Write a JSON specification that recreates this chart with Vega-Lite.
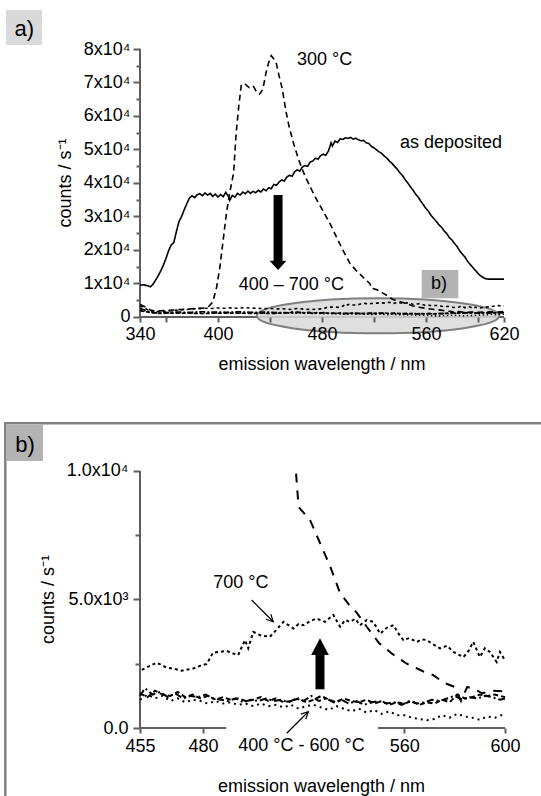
{
"$schema":"https://vega.github.io/schema/vega-lite/v6.json",
"width":365,"height":679,
"autosize":{"type":"none"},
"padding":{"left":140,"top":49,"right":36,"bottom":68},
"background":"white",
"config":{"view":{"stroke":null},"font":"Liberation Sans",
 "axis":{"domain":false,"grid":false,"labelFont":"Liberation Sans","labelFontSize":18,"labelColor":"#000","tickColor":"#5f5f5f","tickWidth":2,"labelFlush":false,"labelOverlap":false,"labelBound":false},
 "text":{"font":"Liberation Sans","fontSize":18,"color":"#000"}},
"datasets":{"spec":[
{"series":"dep","wl":340,"counts":9500},{"series":"dep","wl":343,"counts":9600},{"series":"dep","wl":346,"counts":9300},{"series":"dep","wl":348,"counts":9000},{"series":"dep","wl":350,"counts":9800},{"series":"dep","wl":353,"counts":11600},{"series":"dep","wl":356,"counts":13800},{"series":"dep","wl":358,"counts":15500},{"series":"dep","wl":360,"counts":17500},{"series":"dep","wl":362,"counts":19800},{"series":"dep","wl":364,"counts":21500},{"series":"dep","wl":366,"counts":22200},{"series":"dep","wl":368,"counts":25500},{"series":"dep","wl":370,"counts":28500},{"series":"dep","wl":372,"counts":30000},{"series":"dep","wl":374,"counts":32000},{"series":"dep","wl":376,"counts":33800},{"series":"dep","wl":378,"counts":35500},{"series":"dep","wl":380,"counts":36200},{"series":"dep","wl":382,"counts":35600},{"series":"dep","wl":384,"counts":36500},{"series":"dep","wl":386,"counts":36800},{"series":"dep","wl":388,"counts":36200},{"series":"dep","wl":390,"counts":37000},{"series":"dep","wl":392,"counts":36400},{"series":"dep","wl":394,"counts":36900},{"series":"dep","wl":396,"counts":36000},{"series":"dep","wl":398,"counts":36700},{"series":"dep","wl":400,"counts":35800},{"series":"dep","wl":402,"counts":36600},{"series":"dep","wl":404,"counts":35900},{"series":"dep","wl":406,"counts":37200},{"series":"dep","wl":408,"counts":36000},{"series":"dep","wl":409,"counts":34800},{"series":"dep","wl":411,"counts":36300},{"series":"dep","wl":413,"counts":35800},{"series":"dep","wl":415,"counts":36900},{"series":"dep","wl":417,"counts":36400},{"series":"dep","wl":419,"counts":37300},{"series":"dep","wl":421,"counts":36800},{"series":"dep","wl":423,"counts":37600},{"series":"dep","wl":425,"counts":36900},{"series":"dep","wl":427,"counts":37500},{"series":"dep","wl":429,"counts":37100},{"series":"dep","wl":431,"counts":37800},{"series":"dep","wl":433,"counts":37300},{"series":"dep","wl":435,"counts":38200},{"series":"dep","wl":437,"counts":37700},{"series":"dep","wl":439,"counts":38600},{"series":"dep","wl":441,"counts":38300},{"series":"dep","wl":443,"counts":39600},{"series":"dep","wl":445,"counts":39300},{"series":"dep","wl":447,"counts":40300},{"series":"dep","wl":449,"counts":40900},{"series":"dep","wl":451,"counts":40600},{"series":"dep","wl":453,"counts":41800},{"series":"dep","wl":455,"counts":42300},{"series":"dep","wl":457,"counts":42000},{"series":"dep","wl":459,"counts":43400},{"series":"dep","wl":461,"counts":43900},{"series":"dep","wl":463,"counts":43600},{"series":"dep","wl":465,"counts":44800},{"series":"dep","wl":467,"counts":45200},{"series":"dep","wl":469,"counts":45000},{"series":"dep","wl":471,"counts":46300},{"series":"dep","wl":473,"counts":46600},{"series":"dep","wl":475,"counts":47400},{"series":"dep","wl":477,"counts":47100},{"series":"dep","wl":479,"counts":48200},{"series":"dep","wl":481,"counts":48600},{"series":"dep","wl":483,"counts":48300},{"series":"dep","wl":485,"counts":49600},{"series":"dep","wl":487,"counts":52000},{"series":"dep","wl":488,"counts":51000},{"series":"dep","wl":490,"counts":52500},{"series":"dep","wl":492,"counts":52100},{"series":"dep","wl":494,"counts":53200},{"series":"dep","wl":496,"counts":53000},{"series":"dep","wl":498,"counts":53500},{"series":"dep","wl":500,"counts":53300},{"series":"dep","wl":502,"counts":53600},{"series":"dep","wl":504,"counts":53100},{"series":"dep","wl":506,"counts":53400},{"series":"dep","wl":508,"counts":52900},{"series":"dep","wl":510,"counts":52600},{"series":"dep","wl":512,"counts":52700},{"series":"dep","wl":514,"counts":52000},{"series":"dep","wl":516,"counts":51800},{"series":"dep","wl":518,"counts":50900},{"series":"dep","wl":520,"counts":50500},{"series":"dep","wl":522,"counts":49900},{"series":"dep","wl":524,"counts":49300},{"series":"dep","wl":526,"counts":48800},{"series":"dep","wl":528,"counts":48000},{"series":"dep","wl":530,"counts":47400},{"series":"dep","wl":532,"counts":46500},{"series":"dep","wl":534,"counts":45800},{"series":"dep","wl":536,"counts":44900},{"series":"dep","wl":538,"counts":44100},{"series":"dep","wl":540,"counts":43000},{"series":"dep","wl":542,"counts":42200},{"series":"dep","wl":544,"counts":41000},{"series":"dep","wl":546,"counts":40000},{"series":"dep","wl":548,"counts":38900},{"series":"dep","wl":550,"counts":37900},{"series":"dep","wl":552,"counts":36700},{"series":"dep","wl":554,"counts":35800},{"series":"dep","wl":556,"counts":34600},{"series":"dep","wl":558,"counts":33500},{"series":"dep","wl":560,"counts":32400},{"series":"dep","wl":562,"counts":31500},{"series":"dep","wl":564,"counts":30300},{"series":"dep","wl":566,"counts":29400},{"series":"dep","wl":568,"counts":28500},{"series":"dep","wl":570,"counts":27500},{"series":"dep","wl":572,"counts":26800},{"series":"dep","wl":574,"counts":25700},{"series":"dep","wl":576,"counts":24900},{"series":"dep","wl":578,"counts":23700},{"series":"dep","wl":580,"counts":23000},{"series":"dep","wl":582,"counts":21900},{"series":"dep","wl":584,"counts":21000},{"series":"dep","wl":586,"counts":19700},{"series":"dep","wl":588,"counts":18800},{"series":"dep","wl":590,"counts":17900},{"series":"dep","wl":592,"counts":16600},{"series":"dep","wl":594,"counts":15700},{"series":"dep","wl":596,"counts":14800},{"series":"dep","wl":598,"counts":13900},{"series":"dep","wl":600,"counts":13000},{"series":"dep","wl":602,"counts":12300},{"series":"dep","wl":604,"counts":11800},{"series":"dep","wl":606,"counts":11400},{"series":"dep","wl":608,"counts":11300},{"series":"dep","wl":612,"counts":11300},{"series":"dep","wl":616,"counts":11300},{"series":"dep","wl":620,"counts":11300},
{"series":"300","wl":340,"counts":3800},{"series":"300","wl":342,"counts":3400},{"series":"300","wl":344,"counts":3000},{"series":"300","wl":346,"counts":2500},{"series":"300","wl":348,"counts":2100},{"series":"300","wl":350,"counts":1900},{"series":"300","wl":354,"counts":1800},{"series":"300","wl":358,"counts":1900},{"series":"300","wl":362,"counts":2000},{"series":"300","wl":366,"counts":2100},{"series":"300","wl":370,"counts":2200},{"series":"300","wl":374,"counts":2300},{"series":"300","wl":378,"counts":2400},{"series":"300","wl":382,"counts":2500},{"series":"300","wl":386,"counts":2600},{"series":"300","wl":390,"counts":2700},{"series":"300","wl":393,"counts":3200},{"series":"300","wl":396,"counts":4500},{"series":"300","wl":399,"counts":9000},{"series":"300","wl":401.5,"counts":15000},{"series":"300","wl":404,"counts":23000},{"series":"300","wl":406.5,"counts":31000},{"series":"300","wl":409,"counts":37000},{"series":"300","wl":412,"counts":43000},{"series":"300","wl":414,"counts":55000},{"series":"300","wl":416,"counts":63000},{"series":"300","wl":418,"counts":69500},{"series":"300","wl":421,"counts":69500},{"series":"300","wl":424,"counts":68500},{"series":"300","wl":427,"counts":69000},{"series":"300","wl":430,"counts":67000},{"series":"300","wl":432,"counts":66500},{"series":"300","wl":434.5,"counts":68000},{"series":"300","wl":437,"counts":73000},{"series":"300","wl":439,"counts":76000},{"series":"300","wl":441,"counts":78000},{"series":"300","wl":443,"counts":77000},{"series":"300","wl":445,"counts":75500},{"series":"300","wl":447,"counts":72000},{"series":"300","wl":449.5,"counts":68000},{"series":"300","wl":452,"counts":62000},{"series":"300","wl":454.6,"counts":57000},{"series":"300","wl":458,"counts":52000},{"series":"300","wl":462,"counts":47000},{"series":"300","wl":467,"counts":42000},{"series":"300","wl":472,"counts":38000},{"series":"300","wl":476,"counts":35000},{"series":"300","wl":481,"counts":31500},{"series":"300","wl":486,"counts":28000},{"series":"300","wl":491,"counts":24000},{"series":"300","wl":496,"counts":20000},{"series":"300","wl":501.5,"counts":16000},{"series":"300","wl":506,"counts":14000},{"series":"300","wl":510,"counts":12500},{"series":"300","wl":514,"counts":11000},{"series":"300","wl":517,"counts":9900},{"series":"300","wl":518,"counts":8600},{"series":"300","wl":522.5,"counts":8100},{"series":"300","wl":526.5,"counts":7200},{"series":"300","wl":530.5,"counts":6300},{"series":"300","wl":534.5,"counts":5250},{"series":"300","wl":538,"counts":4800},{"series":"300","wl":541,"counts":4500},{"series":"300","wl":545,"counts":3950},{"series":"300","wl":550,"counts":3300},{"series":"300","wl":555,"counts":2900},{"series":"300","wl":561,"counts":2500},{"series":"300","wl":567.6,"counts":2200},{"series":"300","wl":571.5,"counts":2060},{"series":"300","wl":576,"counts":1750},{"series":"300","wl":580,"counts":1600},{"series":"300","wl":582.5,"counts":1050},{"series":"300","wl":585,"counts":1600},{"series":"300","wl":588,"counts":1500},{"series":"300","wl":591,"counts":1350},{"series":"300","wl":595,"counts":1450},{"series":"300","wl":600,"counts":1420},{"series":"300","wl":605,"counts":1500},{"series":"300","wl":610,"counts":1550},{"series":"300","wl":615,"counts":1500},{"series":"300","wl":620,"counts":1600},
{"series":"700","wl":340,"counts":3300},{"series":"700","wl":342,"counts":3000},{"series":"700","wl":344,"counts":2600},{"series":"700","wl":346,"counts":2100},{"series":"700","wl":348,"counts":1800},{"series":"700","wl":350,"counts":1700},{"series":"700","wl":355,"counts":1600},{"series":"700","wl":360,"counts":1700},{"series":"700","wl":365,"counts":1900},{"series":"700","wl":370,"counts":2100},{"series":"700","wl":375,"counts":2200},{"series":"700","wl":380,"counts":2400},{"series":"700","wl":385,"counts":2500},{"series":"700","wl":390,"counts":2600},{"series":"700","wl":395,"counts":2550},{"series":"700","wl":400,"counts":2700},{"series":"700","wl":405,"counts":2600},{"series":"700","wl":410,"counts":2750},{"series":"700","wl":415,"counts":2600},{"series":"700","wl":420,"counts":2800},{"series":"700","wl":425,"counts":2650},{"series":"700","wl":430,"counts":2600},{"series":"700","wl":435,"counts":2500},{"series":"700","wl":440,"counts":2550},{"series":"700","wl":445,"counts":2400},{"series":"700","wl":450,"counts":2450},{"series":"700","wl":455.7,"counts":2260},{"series":"700","wl":458.5,"counts":2400},{"series":"700","wl":461.6,"counts":2540},{"series":"700","wl":463.5,"counts":2450},{"series":"700","wl":465.6,"counts":2350},{"series":"700","wl":468.5,"counts":2300},{"series":"700","wl":471.6,"counts":2230},{"series":"700","wl":474,"counts":2280},{"series":"700","wl":476,"counts":2310},{"series":"700","wl":479,"counts":2420},{"series":"700","wl":481.5,"counts":2490},{"series":"700","wl":484,"counts":2930},{"series":"700","wl":486.5,"counts":2960},{"series":"700","wl":489.4,"counts":3000},{"series":"700","wl":492,"counts":2900},{"series":"700","wl":494,"counts":2840},{"series":"700","wl":496.7,"counts":3420},{"series":"700","wl":498,"counts":3100},{"series":"700","wl":500,"counts":3740},{"series":"700","wl":503,"counts":3600},{"series":"700","wl":506.6,"counts":3550},{"series":"700","wl":509,"counts":3800},{"series":"700","wl":512,"counts":4130},{"series":"700","wl":514,"counts":4000},{"series":"700","wl":516,"counts":3870},{"series":"700","wl":518,"counts":4050},{"series":"700","wl":520,"counts":4000},{"series":"700","wl":522.5,"counts":4150},{"series":"700","wl":525,"counts":4260},{"series":"700","wl":528.5,"counts":4130},{"series":"700","wl":531.8,"counts":4400},{"series":"700","wl":534.5,"counts":3940},{"series":"700","wl":536.5,"counts":4200},{"series":"700","wl":538.4,"counts":4130},{"series":"700","wl":540.5,"counts":4250},{"series":"700","wl":542.4,"counts":4000},{"series":"700","wl":545,"counts":4200},{"series":"700","wl":547.7,"counts":4130},{"series":"700","wl":550.4,"counts":3670},{"series":"700","wl":553,"counts":3900},{"series":"700","wl":555.7,"counts":4000},{"series":"700","wl":557.5,"counts":3700},{"series":"700","wl":559.6,"counts":3420},{"series":"700","wl":562,"counts":3500},{"series":"700","wl":565,"counts":3350},{"series":"700","wl":567,"counts":3450},{"series":"700","wl":569,"counts":3420},{"series":"700","wl":571.5,"counts":3250},{"series":"700","wl":574.2,"counts":3100},{"series":"700","wl":577,"counts":3200},{"series":"700","wl":579.5,"counts":2960},{"series":"700","wl":583.5,"counts":2760},{"series":"700","wl":585.5,"counts":3000},{"series":"700","wl":587.4,"counts":3350},{"series":"700","wl":590,"counts":2760},{"series":"700","wl":592,"counts":3100},{"series":"700","wl":594,"counts":2960},{"series":"700","wl":596.7,"counts":2570},{"series":"700","wl":598,"counts":2960},{"series":"700","wl":600,"counts":2630},{"series":"700","wl":605,"counts":2900},{"series":"700","wl":610,"counts":3100},{"series":"700","wl":615,"counts":3400},{"series":"700","wl":620,"counts":3300},
{"series":"400","wl":340,"counts":2600},{"series":"400","wl":343,"counts":2200},{"series":"400","wl":346,"counts":1700},{"series":"400","wl":350,"counts":1400},{"series":"400","wl":355,"counts":1300},{"series":"400","wl":360,"counts":1350},{"series":"400","wl":365,"counts":1450},{"series":"400","wl":370,"counts":1500},{"series":"400","wl":375,"counts":1400},{"series":"400","wl":380,"counts":1450},{"series":"400","wl":385,"counts":1550},{"series":"400","wl":390,"counts":1550},{"series":"400","wl":395,"counts":1450},{"series":"400","wl":400,"counts":1500},{"series":"400","wl":405,"counts":1400},{"series":"400","wl":410,"counts":1450},{"series":"400","wl":415,"counts":1550},{"series":"400","wl":420,"counts":1500},{"series":"400","wl":425,"counts":1400},{"series":"400","wl":430,"counts":1400},{"series":"400","wl":435,"counts":1500},{"series":"400","wl":440,"counts":1450},{"series":"400","wl":445,"counts":1300},{"series":"400","wl":450,"counts":1350},{"series":"400","wl":455,"counts":1250},{"series":"400","wl":457,"counts":1550},{"series":"400","wl":460,"counts":1300},{"series":"400","wl":463,"counts":1400},{"series":"400","wl":466,"counts":1200},{"series":"400","wl":469,"counts":1350},{"series":"400","wl":472,"counts":1150},{"series":"400","wl":475,"counts":1250},{"series":"400","wl":478,"counts":1200},{"series":"400","wl":481,"counts":1300},{"series":"400","wl":484,"counts":1150},{"series":"400","wl":487,"counts":1100},{"series":"400","wl":490,"counts":1050},{"series":"400","wl":493,"counts":1150},{"series":"400","wl":496,"counts":1000},{"series":"400","wl":499,"counts":1100},{"series":"400","wl":502,"counts":1050},{"series":"400","wl":505,"counts":1150},{"series":"400","wl":508,"counts":1050},{"series":"400","wl":511,"counts":1100},{"series":"400","wl":514,"counts":1000},{"series":"400","wl":517,"counts":1150},{"series":"400","wl":520,"counts":1050},{"series":"400","wl":523,"counts":1250},{"series":"400","wl":526,"counts":1050},{"series":"400","wl":529,"counts":1150},{"series":"400","wl":532,"counts":1000},{"series":"400","wl":535,"counts":1100},{"series":"400","wl":538,"counts":950},{"series":"400","wl":541,"counts":1050},{"series":"400","wl":544,"counts":900},{"series":"400","wl":547,"counts":1000},{"series":"400","wl":550,"counts":1050},{"series":"400","wl":553,"counts":950},{"series":"400","wl":556,"counts":1000},{"series":"400","wl":559,"counts":900},{"series":"400","wl":562,"counts":1050},{"series":"400","wl":565,"counts":950},{"series":"400","wl":568,"counts":1000},{"series":"400","wl":571,"counts":1100},{"series":"400","wl":574,"counts":1050},{"series":"400","wl":577,"counts":1150},{"series":"400","wl":580,"counts":1250},{"series":"400","wl":583,"counts":1100},{"series":"400","wl":586,"counts":1200},{"series":"400","wl":589,"counts":1150},{"series":"400","wl":592,"counts":1250},{"series":"400","wl":595,"counts":1200},{"series":"400","wl":598,"counts":1100},{"series":"400","wl":600,"counts":1150},{"series":"400","wl":605,"counts":1200},{"series":"400","wl":610,"counts":1300},{"series":"400","wl":615,"counts":1200},{"series":"400","wl":620,"counts":1350},
{"series":"500","wl":340,"counts":2200},{"series":"500","wl":344,"counts":1800},{"series":"500","wl":348,"counts":1400},{"series":"500","wl":352,"counts":1200},{"series":"500","wl":356,"counts":1150},{"series":"500","wl":360,"counts":1250},{"series":"500","wl":365,"counts":1200},{"series":"500","wl":370,"counts":1300},{"series":"500","wl":375,"counts":1250},{"series":"500","wl":380,"counts":1200},{"series":"500","wl":385,"counts":1300},{"series":"500","wl":390,"counts":1300},{"series":"500","wl":395,"counts":1200},{"series":"500","wl":400,"counts":1250},{"series":"500","wl":405,"counts":1300},{"series":"500","wl":410,"counts":1300},{"series":"500","wl":415,"counts":1200},{"series":"500","wl":420,"counts":1200},{"series":"500","wl":425,"counts":1300},{"series":"500","wl":430,"counts":1250},{"series":"500","wl":435,"counts":1150},{"series":"500","wl":440,"counts":1200},{"series":"500","wl":445,"counts":1250},{"series":"500","wl":450,"counts":1250},{"series":"500","wl":455,"counts":1100},{"series":"500","wl":458,"counts":1300},{"series":"500","wl":461,"counts":1150},{"series":"500","wl":464,"counts":1250},{"series":"500","wl":467,"counts":1050},{"series":"500","wl":470,"counts":1150},{"series":"500","wl":473,"counts":1000},{"series":"500","wl":476,"counts":1100},{"series":"500","wl":479,"counts":1050},{"series":"500","wl":482,"counts":950},{"series":"500","wl":485,"counts":1050},{"series":"500","wl":488,"counts":950},{"series":"500","wl":491,"counts":1000},{"series":"500","wl":494,"counts":900},{"series":"500","wl":497,"counts":950},{"series":"500","wl":500,"counts":850},{"series":"500","wl":503,"counts":950},{"series":"500","wl":506,"counts":850},{"series":"500","wl":509,"counts":900},{"series":"500","wl":512,"counts":800},{"series":"500","wl":515,"counts":900},{"series":"500","wl":518,"counts":750},{"series":"500","wl":521,"counts":850},{"series":"500","wl":524,"counts":900},{"series":"500","wl":527,"counts":800},{"series":"500","wl":530,"counts":700},{"series":"500","wl":533,"counts":850},{"series":"500","wl":536,"counts":750},{"series":"500","wl":539,"counts":650},{"series":"500","wl":542,"counts":750},{"series":"500","wl":545,"counts":600},{"series":"500","wl":548,"counts":700},{"series":"500","wl":551,"counts":550},{"series":"500","wl":554,"counts":650},{"series":"500","wl":557,"counts":500},{"series":"500","wl":560,"counts":500},{"series":"500","wl":563,"counts":400},{"series":"500","wl":566,"counts":350},{"series":"500","wl":569,"counts":300},{"series":"500","wl":572,"counts":350},{"series":"500","wl":575,"counts":500},{"series":"500","wl":578,"counts":400},{"series":"500","wl":581,"counts":550},{"series":"500","wl":584,"counts":450},{"series":"500","wl":587,"counts":400},{"series":"500","wl":590,"counts":320},{"series":"500","wl":593,"counts":450},{"series":"500","wl":596,"counts":400},{"series":"500","wl":600,"counts":550},{"series":"500","wl":605,"counts":600},{"series":"500","wl":610,"counts":800},{"series":"500","wl":615,"counts":700},{"series":"500","wl":620,"counts":900},
{"series":"600","wl":340,"counts":1900},{"series":"600","wl":344,"counts":1600},{"series":"600","wl":348,"counts":1300},{"series":"600","wl":352,"counts":1100},{"series":"600","wl":356,"counts":1050},{"series":"600","wl":360,"counts":1100},{"series":"600","wl":365,"counts":1150},{"series":"600","wl":370,"counts":1150},{"series":"600","wl":375,"counts":1100},{"series":"600","wl":380,"counts":1100},{"series":"600","wl":385,"counts":1050},{"series":"600","wl":390,"counts":1050},{"series":"600","wl":395,"counts":1100},{"series":"600","wl":400,"counts":1100},{"series":"600","wl":405,"counts":1150},{"series":"600","wl":410,"counts":1150},{"series":"600","wl":415,"counts":1100},{"series":"600","wl":420,"counts":1100},{"series":"600","wl":425,"counts":1050},{"series":"600","wl":430,"counts":1100},{"series":"600","wl":435,"counts":1100},{"series":"600","wl":440,"counts":1050},{"series":"600","wl":445,"counts":1100},{"series":"600","wl":450,"counts":1100},{"series":"600","wl":455,"counts":1350},{"series":"600","wl":458,"counts":1200},{"series":"600","wl":461,"counts":1450},{"series":"600","wl":464,"counts":1300},{"series":"600","wl":467,"counts":1250},{"series":"600","wl":470,"counts":1400},{"series":"600","wl":473,"counts":1200},{"series":"600","wl":476,"counts":1300},{"series":"600","wl":479,"counts":1150},{"series":"600","wl":482,"counts":1250},{"series":"600","wl":485,"counts":1100},{"series":"600","wl":488,"counts":1200},{"series":"600","wl":491,"counts":1100},{"series":"600","wl":494,"counts":1150},{"series":"600","wl":497,"counts":1050},{"series":"600","wl":500,"counts":1100},{"series":"600","wl":503,"counts":1200},{"series":"600","wl":506,"counts":1050},{"series":"600","wl":509,"counts":1150},{"series":"600","wl":512,"counts":1000},{"series":"600","wl":515,"counts":1050},{"series":"600","wl":518,"counts":1150},{"series":"600","wl":521,"counts":1000},{"series":"600","wl":524,"counts":1100},{"series":"600","wl":527,"counts":1250},{"series":"600","wl":530,"counts":1100},{"series":"600","wl":533,"counts":1000},{"series":"600","wl":536,"counts":1150},{"series":"600","wl":539,"counts":1050},{"series":"600","wl":542,"counts":1000},{"series":"600","wl":545,"counts":1100},{"series":"600","wl":548,"counts":950},{"series":"600","wl":551,"counts":1050},{"series":"600","wl":554,"counts":900},{"series":"600","wl":557,"counts":1000},{"series":"600","wl":560,"counts":950},{"series":"600","wl":563,"counts":1050},{"series":"600","wl":566,"counts":900},{"series":"600","wl":569,"counts":1000},{"series":"600","wl":572,"counts":950},{"series":"600","wl":575,"counts":1100},{"series":"600","wl":578,"counts":1000},{"series":"600","wl":581,"counts":1300},{"series":"600","wl":584,"counts":1150},{"series":"600","wl":587,"counts":1200},{"series":"600","wl":590,"counts":1300},{"series":"600","wl":593,"counts":1250},{"series":"600","wl":596,"counts":1300},{"series":"600","wl":600,"counts":1200},{"series":"600","wl":605,"counts":1250},{"series":"600","wl":610,"counts":1150},{"series":"600","wl":615,"counts":1300},{"series":"600","wl":620,"counts":1250}
]},
"layer":[
{"layer":[
 {"data":{"values":[{"wl":340,"counts":0,"wl2":620,"counts2":0},{"wl":340,"counts":0,"wl2":340,"counts2":80000}]},
  "mark":{"type":"rule","color":"#5f5f5f","strokeWidth":2},
  "encoding":{
   "x":{"field":"wl","type":"quantitative","scale":{"domain":[340,620.8],"nice":false,"zero":false},"axis":{"orient":"bottom","offset":-411,"zindex":2,"values":[340,360,400,440,480,520,560,600,620],"labelExpr":"indexof([340,400,480,560,620], datum.value) >= 0 ? datum.label : ''","tickSize":5,"labelPadding":3,"title":null}},
   "y":{"field":"counts","type":"quantitative","scale":{"domain":[-122687,80000],"nice":false,"zero":false},"axis":{"orient":"left","values":[0,5000,10000,15000,20000,25000,30000,35000,40000,45000,50000,55000,60000,65000,70000,75000,80000],"labelExpr":"datum.value == 0 ? '0' : (datum.value % 10000 == 0 ? (datum.value / 10000) + 'x10⁴' : '')","tickSize":{"condition":{"test":"datum.value % 10000 == 0","value":7},"value":4},"labelPadding":3,"title":null}},
   "x2":{"field":"wl2"},"y2":{"field":"counts2"}}},
 {"data":{"values":[{"wl":523.1,"counts":358}]},
  "mark":{"type":"point","shape":"M -1 0 A 1 0.1443 0 1 0 1 0 A 1 0.1443 0 1 0 -1 0 Z","size":58855,"filled":true,"fill":"#d9d9d9","stroke":"#7f7f7f","strokeWidth":2,"fillOpacity":0.85,"strokeOpacity":1,"opacity":1},
  "encoding":{"x":{"field":"wl","type":"quantitative"},"y":{"field":"counts","type":"quantitative"}}},
 {"data":{"name":"spec"},
  "mark":{"type":"line","color":"#000","strokeWidth":1.6},
  "encoding":{
   "x":{"field":"wl","type":"quantitative"},
   "y":{"field":"counts","type":"quantitative"},
   "strokeDash":{"field":"series","type":"nominal","scale":{"domain":["dep","300","400","500","600","700"],"range":[[1,0],[6,4],[6,2,2,2],[1.5,2.5],[4,2],[3,3]]},"legend":null}}},
 {"data":{"values":[{"wl":446.2,"counts":36418,"counts2":16418}]},
  "mark":{"type":"rule","color":"#000","strokeWidth":9,"strokeCap":"butt"},
  "encoding":{"x":{"field":"wl","type":"quantitative"},"y":{"field":"counts","type":"quantitative"},"y2":{"field":"counts2"}}},
 {"data":{"values":[{"wl":446.2,"counts":14030}]},
  "mark":{"type":"point","shape":"M -1 -1.1 L 1 -1.1 L 0 0 Z","size":289,"filled":true,"color":"#000","opacity":1},
  "encoding":{"x":{"field":"wl","type":"quantitative"},"y":{"field":"counts","type":"quantitative"}}},
 {"data":{"values":[{"wl":556.7,"wl2":584.9,"counts":14030,"counts2":5582,"fill":"b"},{"wl":236.9,"wl2":264.6,"counts":91642,"counts2":81194,"fill":"a"}]},
  "mark":{"type":"rect"},
  "encoding":{"x":{"field":"wl","type":"quantitative"},"x2":{"field":"wl2"},"y":{"field":"counts","type":"quantitative"},"y2":{"field":"counts2"},
   "color":{"field":"fill","type":"nominal","scale":{"domain":["a","b"],"range":["#d9d9d9","#b3b3b3"]},"legend":null}}},
 {"data":{"values":[{"wl":460.8,"counts":76716,"t":"300 °C"},{"wl":540.0,"counts":51940,"t":"as deposited"},{"wl":416.0,"counts":9552,"t":"400 – 700 °C"}]},
  "mark":{"type":"text","align":"left","baseline":"middle","fontSize":18},
  "encoding":{"x":{"field":"wl","type":"quantitative"},"y":{"field":"counts","type":"quantitative"},"text":{"field":"t"}}},
 {"data":{"values":[{"wl":570.0,"counts":9851,"t":"b)"},{"wl":480.0,"counts":-14447,"t":"emission wavelength / nm"}]},
  "mark":{"type":"text","align":"center","baseline":"middle","fontSize":18},
  "encoding":{"x":{"field":"wl","type":"quantitative"},"y":{"field":"counts","type":"quantitative"},"text":{"field":"t"}}},
 {"data":{"values":[{"wl":250.9,"counts":85971,"t":"a)"}]},
  "mark":{"type":"text","align":"center","baseline":"middle","fontSize":22},
  "encoding":{"x":{"field":"wl","type":"quantitative"},"y":{"field":"counts","type":"quantitative"},"text":{"field":"t"}}},
 {"data":{"values":[{"wl":283.07,"counts":40000,"t":"counts / s⁻¹"}]},
  "mark":{"type":"text","align":"center","baseline":"middle","fontSize":18,"angle":270},
  "encoding":{"x":{"field":"wl","type":"quantitative"},"y":{"field":"counts","type":"quantitative"},"text":{"field":"t"}}}
]},
{"layer":[
 {"data":{"values":[{"wl":455,"counts":0,"wl2":489.2,"counts2":0},{"wl":549.6,"counts":0,"wl2":600,"counts2":0},{"wl":455,"counts":0,"wl2":455,"counts2":10000}]},
  "mark":{"type":"rule","color":"#5f5f5f","strokeWidth":2},
  "encoding":{
   "x":{"field":"wl","type":"quantitative","scale":{"domain":[455,600],"nice":false,"zero":false},"axis":{"orient":"bottom","values":[455,480,560,600],"tickSize":5,"labelPadding":4,"title":null}},
   "y":{"field":"counts","type":"quantitative","scale":{"domain":[0,26420],"nice":false,"zero":false},"axis":{"orient":"left","values":[0,2500,5000,7500,10000],"labelExpr":"datum.value == 0 ? '0.0' : (datum.value == 5000 ? '5.0x10³' : (datum.value == 10000 ? '1.0x10⁴' : ''))","tickSize":{"condition":{"test":"datum.value % 5000 == 0","value":7},"value":5},"labelPadding":5,"title":null}},
   "x2":{"field":"wl2"},"y2":{"field":"counts2"}}},
 {"data":{"values":[{"wl":401.49,"wl2":621.9,"counts":11856,"counts2":-3191}]},
  "mark":{"type":"rect","filled":false,"color":"#808080","strokeWidth":2.5},
  "encoding":{"x":{"field":"wl","type":"quantitative"},"x2":{"field":"wl2"},"y":{"field":"counts","type":"quantitative"},"y2":{"field":"counts2"}}},
 {"data":{"values":[{"wl":401.96,"wl2":416.46,"counts":11809,"counts2":10389}]},
  "mark":{"type":"rect","color":"#b3b3b3"},
  "encoding":{"x":{"field":"wl","type":"quantitative"},"x2":{"field":"wl2"},"y":{"field":"counts","type":"quantitative"},"y2":{"field":"counts2"}}},
 {"data":{"name":"spec"},
  "transform":[{"filter":"datum.wl >= 455 && datum.wl <= 600 && datum.counts <= 10000"}],
  "mark":{"type":"line","color":"#000","strokeWidth":2},
  "encoding":{
   "x":{"field":"wl","type":"quantitative"},
   "y":{"field":"counts","type":"quantitative"},
   "strokeDash":{"field":"series","type":"nominal","scale":{"domain":["dep","300","400","500","600","700"],"range":[[1,0],[9,8],[7,3,2,3],[2,4],[5,3],[3,3]]},"legend":null}}},
 {"data":{"values":[{"wl":526.5,"counts":1506,"counts2":2900}]},
  "mark":{"type":"rule","color":"#000","strokeWidth":9,"strokeCap":"butt"},
  "encoding":{"x":{"field":"wl","type":"quantitative"},"y":{"field":"counts","type":"quantitative"},"y2":{"field":"counts2"}}},
 {"data":{"values":[{"wl":526.5,"counts":3490}]},
  "mark":{"type":"point","shape":"M -1 1.9 L 1 1.9 L 0 0 Z","size":313,"filled":true,"color":"#000","opacity":1},
  "encoding":{"x":{"field":"wl","type":"quantitative"},"y":{"field":"counts","type":"quantitative"}}},
 {"data":{"values":[{"wl":499.37,"counts":4981,"wl2":507.96,"counts2":4136},{"wl":513.28,"counts":-206,"wl2":521.86,"counts2":634}]},
  "mark":{"type":"rule","color":"#000","strokeWidth":1.2},
  "encoding":{"x":{"field":"wl","type":"quantitative"},"y":{"field":"counts","type":"quantitative"},"x2":{"field":"wl2"},"y2":{"field":"counts2"}}},
 {"data":{"values":[{"wl":507.96,"counts":4136,"ang":135},{"wl":521.86,"counts":634,"ang":45}]},
  "mark":{"type":"point","shape":"M -0.5 1 L 0 0 L 0.5 1","size":196,"filled":false,"color":"#000","strokeWidth":1.2,"opacity":1},
  "encoding":{"x":{"field":"wl","type":"quantitative"},"y":{"field":"counts","type":"quantitative"},"angle":{"field":"ang","type":"quantitative","scale":null}}},
 {"data":{"values":[{"wl":484.1,"counts":5642,"t":"700 °C"}]},
  "mark":{"type":"text","align":"left","baseline":"middle","fontSize":18},
  "encoding":{"x":{"field":"wl","type":"quantitative"},"y":{"field":"counts","type":"quantitative"},"text":{"field":"t"}}},
 {"data":{"values":[{"wl":519.16,"counts":-681,"t":"400 °C - 600 °C"},{"wl":527.1,"counts":-2296,"t":"emission wavelength / nm"}]},
  "mark":{"type":"text","align":"center","baseline":"middle","fontSize":18},
  "encoding":{"x":{"field":"wl","type":"quantitative"},"y":{"field":"counts","type":"quantitative"},"text":{"field":"t"}}},
 {"data":{"values":[{"wl":409.3,"counts":11012,"t":"b)"}]},
  "mark":{"type":"text","align":"center","baseline":"middle","fontSize":22},
  "encoding":{"x":{"field":"wl","type":"quantitative"},"y":{"field":"counts","type":"quantitative"},"text":{"field":"t"}}},
 {"data":{"values":[{"wl":418.85,"counts":5000,"t":"counts / s⁻¹"}]},
  "mark":{"type":"text","align":"center","baseline":"middle","fontSize":18,"angle":270},
  "encoding":{"x":{"field":"wl","type":"quantitative"},"y":{"field":"counts","type":"quantitative"},"text":{"field":"t"}}}
]}
],
"resolve":{"scale":{"x":"independent","y":"independent","strokeDash":"independent","color":"independent"},"axis":{"x":"independent","y":"independent"}}
}
